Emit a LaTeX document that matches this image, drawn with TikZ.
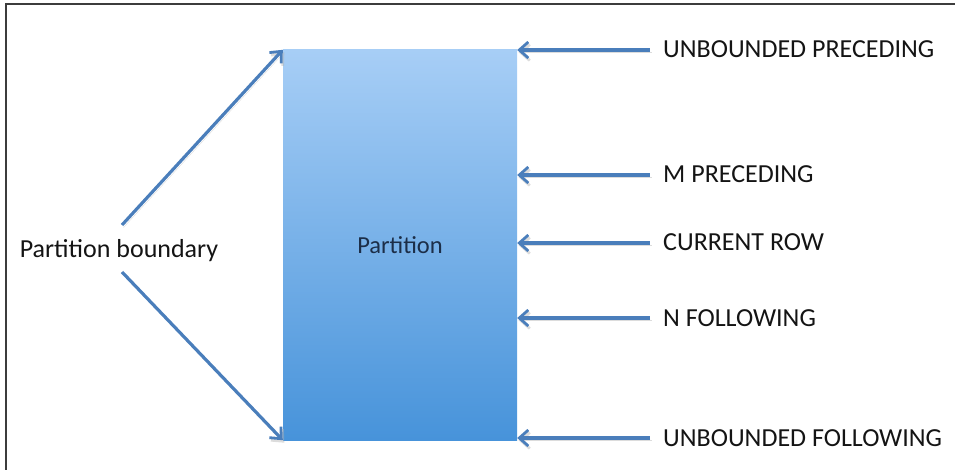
\documentclass[tikz,border=0pt]{standalone}
\usepackage{fontspec}
\setmainfont{Carlito}
\usetikzlibrary{arrows.meta}
\definecolor{arrowblue}{HTML}{4A7EBB}
\definecolor{boxtop}{HTML}{A7CEF6}
\definecolor{boxbot}{HTML}{4793DA}
\definecolor{boxtext}{HTML}{1C2E48}
\definecolor{framegray}{HTML}{3C3C3C}
\tikzset{
  arr/.style={draw=arrowblue,line width=3.2pt,-{Straight Barb[length=9pt,width=16pt,line width=2.8pt]},
    preaction={draw=black!30,draw opacity=0.45,transform canvas={shift={(1.5,2.5)}}}},
  lbl/.style={anchor=west,inner sep=0pt,text=black!92,font=\fontsize{26}{30}\selectfont,text height=16pt,text depth=0pt},
  partbox/.style={rectangle,minimum width=234pt,minimum height=390pt,inner sep=0pt,top color=boxtop,bottom color=boxbot,text=boxtext,font=\fontsize{24.5}{28}\selectfont}
}

\begin{document}
\begin{tikzpicture}[x=1pt,y=-1pt]
\useasboundingbox (0,0) rectangle (955,470);
\draw [framegray,line width=2pt] (6,470) -- (6,4) -- (955,4);

\node [partbox] (part) at (400,245) {Partition};

\node [lbl] (up) at (663,50) {UNBOUNDED PRECEDING};
\node [lbl] (mp) at (663,175) {M PRECEDING};
\node [lbl] (cr) at (663,243) {CURRENT ROW};
\node [lbl] (nf) at (663,318) {N FOLLOWING};
\node [lbl] (uf) at (663,438) {UNBOUNDED FOLLOWING};

\foreach \n in {up,mp,cr,nf,uf}
  \draw [arr] ([xshift=-13pt]\n.west) -- (part.east |- \n.west);

\node [lbl,anchor=center,text depth=5pt] (pb) at (119,252) {Partition boundary};
\coordinate (pbup) at (122,225);
\coordinate (pbdn) at (122,272);
\draw [arr] (pbup) -- (part.north west);
\draw [arr] (pbdn) -- (part.south west);

\end{tikzpicture}
\end{document}
